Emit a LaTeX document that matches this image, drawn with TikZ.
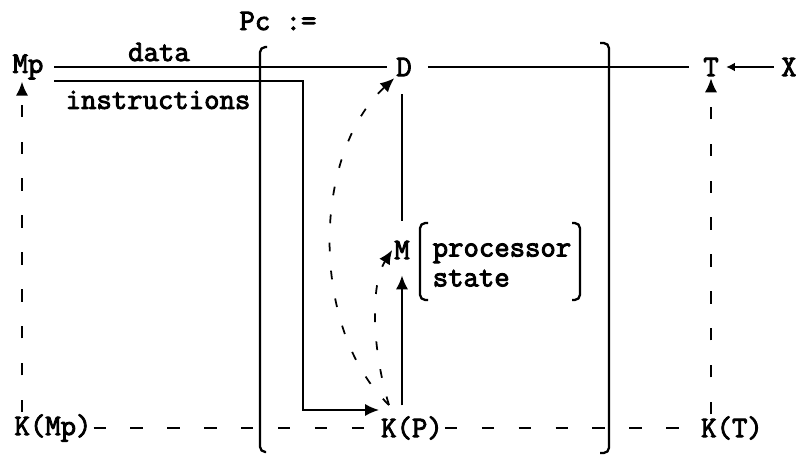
\documentclass[tikz,border=0pt]{standalone}
\usepackage{fontspec}
\newfontfamily\typewr{Latin Modern Mono}[FakeBold=3]
\usetikzlibrary{arrows.meta}

\begin{document}
\begin{tikzpicture}[font=\typewr\fontsize{17}{17}\selectfont,
  lbl/.style={inner sep=1pt},
  wire/.style={line width=1.3pt},
  arr/.style={wire,-{Latex[length=8pt,width=7pt]}},
  ctl/.style={wire,dash pattern=on 7pt off 14pt},
  ctlarr/.style={ctl,-{Latex[length=8pt,width=7pt]}},
  ctlcurve/.style={line width=1pt,dash pattern=on 5pt off 11pt,-{Latex[length=8pt,width=7pt]}},
  brk/.style={line width=1.3pt,rounded corners=3pt}]\useasboundingbox (0,0) rectangle (15.92,9.14);
\node[lbl] (pc) at (5.56,8.72) {Pc :=};
\node[lbl] (mp) at (0.56,7.80) {Mp};
\node[lbl] (d) at (8.08,7.80) {D};
\node[lbl] (t) at (14.22,7.80) {T};
\node[lbl] (x) at (15.78,7.80) {X};
\node[lbl] (data) at (3.18,8.10) {data};
\node[lbl] (instr) at (3.16,7.14) {instructions};
\node[lbl] (m) at (8.04,4.14) {M};
\node[lbl,align=left] (ps) at (10.04,3.84) {processor\\state};
\node[lbl] (kmp) at (1.06,0.58) {K(Mp)};
\node[lbl] (kp) at (8.24,0.58) {K(P)};
\node[lbl] (kt) at (14.64,0.58) {K(T)};
\coordinate (ibend) at (6.06,0.94);
\coordinate (kpt) at (7.78,1.04);
\draw[brk] (5.34,8.20) -- (5.20,8.20) -- (5.20,0.10) -- (5.32,0.10);
\draw[brk] (12.00,8.28) -- (12.18,8.28) -- (12.18,0.08) -- (12.00,0.08);
\draw[brk] (8.56,4.68) -- (8.40,4.68) -- (8.40,3.14) -- (8.56,3.14);
\draw[brk] (11.44,4.68) -- (11.60,4.68) -- (11.60,3.14) -- (11.44,3.14);
\draw[wire] ([xshift=5pt]mp.east) -- ([xshift=-4pt]d.west);
\draw[wire] ([xshift=8pt]d.east) -- ([xshift=-7pt]t.west);
\draw[arr] ([xshift=5pt,yshift=-8pt]mp.east) -| (ibend) -- (kp.north west |- ibend);
\draw[arr,-{Latex[length=5pt,width=5pt]}] ([xshift=-3pt]x.west) -- ([xshift=3pt]t.east);
\draw[wire,shorten <=9pt,shorten >=10pt] (m.north |- d.south) -- (m.north);
\draw[arr,shorten <=5pt,shorten >=8pt] (m.south |- kp.north) -- (m.south);
\draw[ctlcurve] (kpt) .. controls (6.20,2.54) and (6.22,6.04) .. (d.south west);
\draw[ctlcurve] (kpt) .. controls (7.44,2.14) and (7.40,3.44) .. (m.west);
\draw[ctlarr] ([xshift=-0.12cm]mp.south |- kmp.north) -- ([xshift=-0.12cm]mp.south);
\draw[ctlarr] (t.south |- kt.north) -- (t.south);
\draw[ctl] (kmp.east) -- (kp.west);
\draw[ctl] (kp.east) -- (kt.west);
\end{tikzpicture}
\end{document}
